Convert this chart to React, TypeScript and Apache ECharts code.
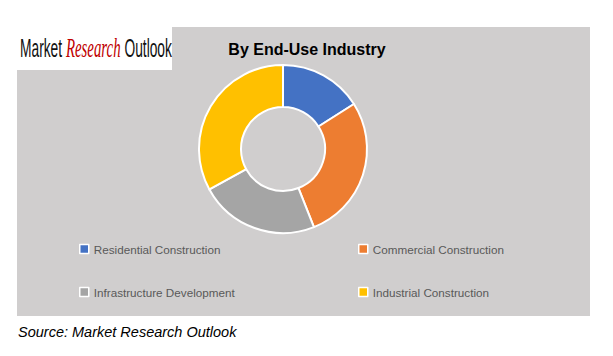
import React, { useEffect, useRef } from "react";
import * as echarts from "echarts";

const categories = [
  "Residential Construction",
  "Commercial Construction",
  "Infrastructure Development",
  "Industrial Construction",
];
const values = [16, 28, 23, 33];
const colors = ["#4472C4", "#ED7D31", "#A5A5A5", "#FFC000"];
const title = "By End-Use Industry";
const source = "Source: Market Research Outlook";

export default function App() {
  const ref = useRef<HTMLDivElement>(null);
  useEffect(() => {
    document.body.style.margin = "0";
    const chart = echarts.init(ref.current!, null, { renderer: "svg" });
    const legendText = { color: "#595959", fontSize: 11.7, fontFamily: "Liberation Sans, Arial, sans-serif" };
    const legendCommon = {
      orient: "vertical",
      itemWidth: 9,
      itemHeight: 9,
      itemGap: 31,
      padding: 0,
      icon: "rect",
      textStyle: legendText,
      itemStyle: { borderColor: "#fff", borderWidth: 1.5 },
      selectedMode: false,
    };
    chart.setOption({
      animation: false,
      backgroundColor: "#ffffff",
      graphic: [
        { type: "rect", z: -10, shape: { x: 17, y: 27, width: 573, height: 289 }, style: { fill: "#D0CECE" } },
        { type: "rect", z: -5, shape: { x: 17, y: 27, width: 155, height: 43 }, style: { fill: "#ffffff" } },
        {
          type: "text",
          x: 20,
          y: 34,
          scaleX: 0.53,
          style: {
            text: "{a|Market }{b|Research}{a| Outlook}",
            rich: {
              a: { fontSize: 26, fontFamily: "Liberation Sans, Arial, sans-serif", fill: "#111", fontWeight: "normal" },
              b: { fontSize: 28, fontFamily: "Liberation Serif, serif", fontStyle: "italic", fill: "#C00000" },
            },
          },
        },
        {
          type: "text",
          x: 307,
          y: 49,
          style: {
            text: title,
            fontSize: 16,
            fontWeight: "bold",
            fontFamily: "Liberation Sans, Arial, sans-serif",
            fill: "#000",
            align: "center",
            verticalAlign: "middle",
          },
        },
        {
          type: "text",
          x: 18,
          y: 332,
          style: {
            text: source,
            fontSize: 14.5,
            fontStyle: "italic",
            fontFamily: "Liberation Sans, Arial, sans-serif",
            fill: "#000",
            verticalAlign: "middle",
          },
        },
      ],
      legend: [
        { ...legendCommon, left: 79, top: 243, data: [categories[0], categories[2]] },
        { ...legendCommon, left: 358, top: 243, data: [categories[1], categories[3]] },
      ],
      series: [
        {
          type: "pie",
          center: [283, 149],
          radius: [42, 84],
          startAngle: 90,
          clockwise: true,
          label: { show: false },
          labelLine: { show: false },
          emphasis: { disabled: true },
          itemStyle: { borderColor: "#ffffff", borderWidth: 2 },
          data: categories.map((c, i) => ({ name: c, value: values[i], itemStyle: { color: colors[i] } })),
        },
      ],
    });
    return () => chart.dispose();
  }, []);
  return <div ref={ref} style={{ width: 613, height: 356 }} />;
}
